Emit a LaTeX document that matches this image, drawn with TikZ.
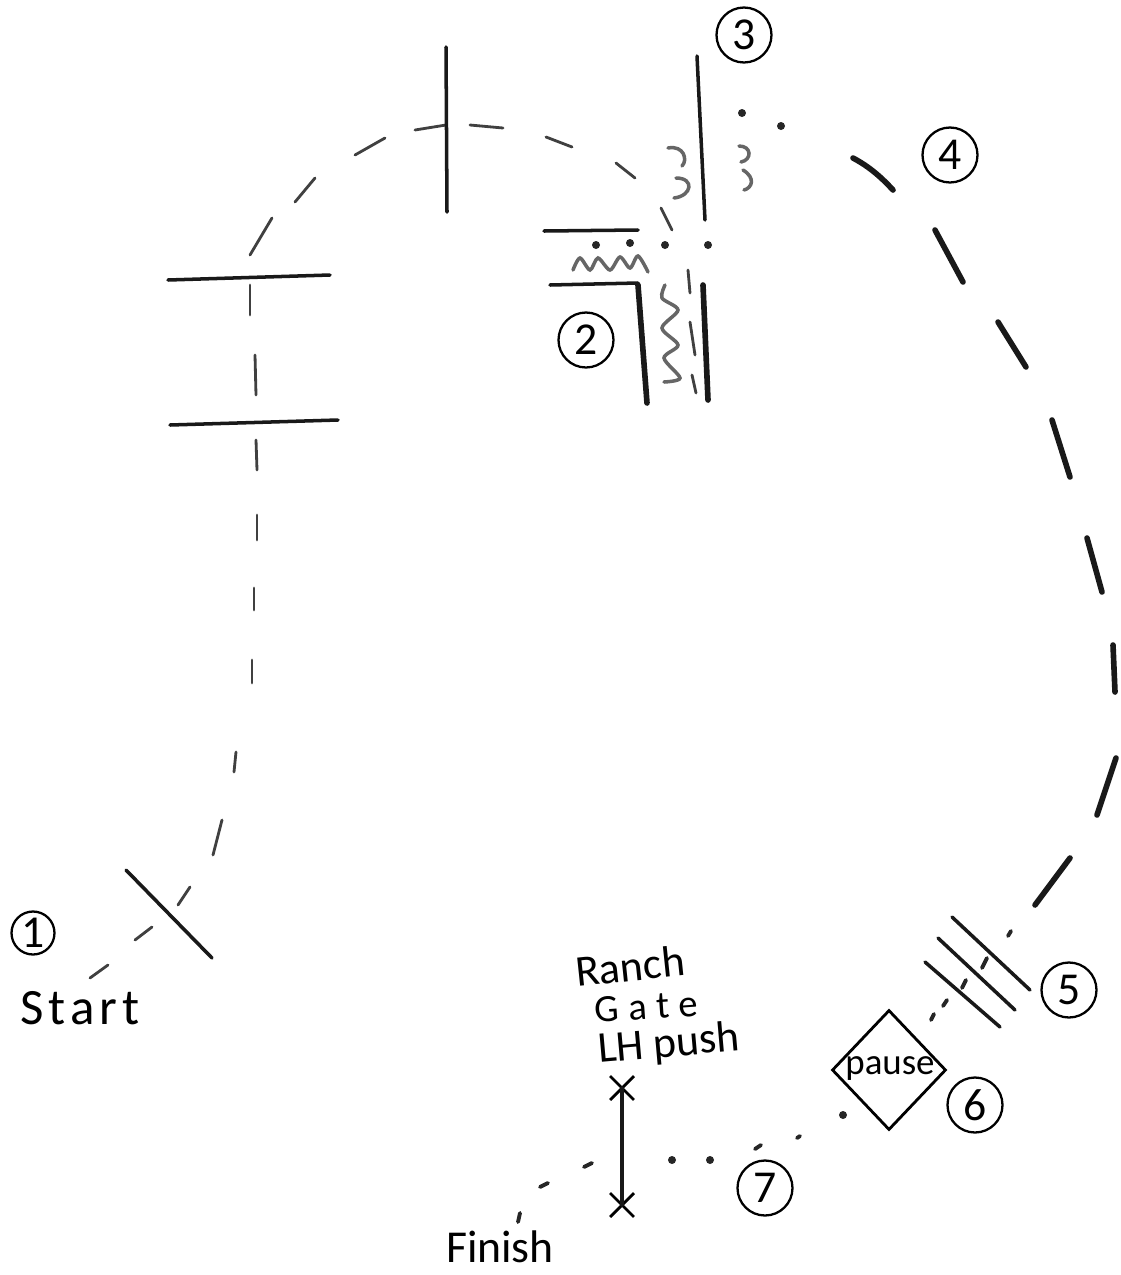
\documentclass[tikz,border=0pt]{standalone}
\usepackage{fontspec}
\setmainfont{Carlito}
\usepackage{tikz}
\usetikzlibrary{positioning,shapes.geometric,shapes.misc}
\tikzset{
rcpale/.style={line width=1.6pt,color=black!75,line cap=round},
rcdash/.style={line width=2.2pt,color=black!85,line cap=round},
rcheavy/.style={line width=3.2pt,color=black!90,line cap=round},
rcrail/.style={line width=2pt,color=black!90,line cap=round},
rcwave/.style={line width=2pt,color=black!60,line cap=round},
rcnum/.style={circle,draw,line width=1.3pt,minimum size=1.1cm,inner sep=0pt,font=\fontsize{26}{26}\selectfont},
rctext/.style={font=\fontsize{25}{25}\selectfont,inner sep=0pt},
rcdot/.style={fill=black!85,draw=none},
rcmark/.style={cross out,draw,line width=1.6pt,minimum size=0.42cm,inner sep=0pt}
}
\begin{document}
\begin{tikzpicture}[x=0.02cm,y=-0.02cm]
\useasboundingbox (0,0) rectangle (1120,1275);
% course, first half
\foreach \xa/\ya/\xb/\yb in {90/978/108/965,135/940/152/927,178/905/190/887,213/855/222/820,
  234/772/236/752,252/683/252/660,254/610/254/588,257/540/257/515,257/470/256/440,
  256/395/255/355,250/315/250/285,250/255/272/218,295/202/315/178,355/155/385/138,
  415/130/446/125,470/125/503/128,546/137/572/147,616/163/635/178,661/208/672/230,
  688/270/690/293,690/322/695/355,692/375/696/393}
  \draw[rcpale] (\xa,\ya)--(\xb,\yb);
% course, second half
\draw[rcheavy] (853,158) .. controls (870,167) and (882,178) .. (893,190);
\foreach \xa/\ya/\xb/\yb in {935/230/963/282,998/322/1026/367,1052/420/1070/477,1087/538/1102/592,
  1113/645/1115/692,1116/758/1097/815,1070/858/1035/905}
  \draw[rcheavy] (\xa,\ya)--(\xb,\yb);
\foreach \xa/\ya/\xb/\yb in {1011/931/1008/936,987/958/982/968,966/980/962/988,947/1000/943/1006,
  934/1014/931/1020,797/1138/800/1136,755/1149/761/1145,592/1163/584/1167,548/1183/540/1187,520/1213/518/1222}
  \draw[rcdash] (\xa,\ya)--(\xb,\yb);
\foreach \px/\py in {665/245,708/245,742/113,781/126,596/245,630/243,843/1115,710/1160,672/1160}
  \fill[rcdot] (\px,\py) circle (4);
% gates and rails
\draw[rcrail] (446,47)--(447,212);
\draw[rcrail] (168,280)--(330,275);
\draw[rcrail] (170,425)--(338,420);
\draw[rcrail] (126,870)--(212,958);
\draw[rcrail] (544,231)--(638,230);
\draw[rcrail] (550,285)--(638,283);
\draw[rcheavy] (638,285)--(647,403);
\draw[rcrail] (697,56)--(705,220);
\draw[rcheavy] (703,285)--(708,400);
\draw[rcrail] (952,917)--(1030,990);
\draw[rcrail] (938,938)--(1015,1010);
\draw[rcrail] (925,962)--(1000,1027);
% waves
\draw[rcwave] plot[smooth] coordinates {(573,270) (580,258) (590,270) (598,258) (610,270) (620,257) (630,268) (638,256) (648,272)};
\draw[rcwave] plot[smooth] coordinates {(665,285) (662,298) (678,310) (662,328) (678,345) (664,358) (680,378) (664,382)};
\draw[rcwave] (668,148) .. controls (684,145) and (688,160) .. (682,166);
\draw[rcwave] (676,178) .. controls (695,178) and (692,196) .. (674,198);
\draw[rcwave] (739,146) .. controls (752,146) and (752,160) .. (741,162);
\draw[rcwave] (743,170) .. controls (756,178) and (752,188) .. (744,190);
% pause box
\node[draw,line width=1.6pt,diamond,minimum width=2.28cm,minimum height=2.4cm,inner sep=0pt] (pausebox) at (889,1070) {};
% numbers and labels
\node[rcnum,minimum size=0.86cm] (numa) at (33,933) {1};
\node[rcnum] (numb) at (586,340) {2};
\node[rcnum] (numc) at (744,35) {3};
\node[rcnum] (numd) at (950,155) {4};
\node[rcnum] (nume) at (1069,990) {5};
\node[rcnum] (numf) at (975,1105) {6};
\node[rcnum] (numg) at (765,1188) {7};
\node[rctext,font=\fontsize{29}{29}\selectfont\addfontfeature{LetterSpace=10}] (start) at (80,1008) {Start};
\node[rctext,font=\fontsize{26}{26}\selectfont] (finish) at (500,1247) {Finish};
\node[rctext,rotate=6] (ranch) at (630,966) {Ranch};
\node[rctext,rotate=4,font=\fontsize{22}{22}\selectfont\addfontfeature{LetterSpace=25}] (gate) at (646,1007) {Gate};
\node[rctext,rotate=5] (push) at (669,1045) {LH push};
\node[font=\fontsize{21}{21}\selectfont,inner sep=0pt] (pause) at (890,1068) {pause};
% last gate
\node[rcmark] (marka) at (622,1088) {};
\node[rcmark] (markb) at (622,1205) {};
\draw[rcrail] (marka.center)--(markb.center);
\end{tikzpicture}
\end{document}
